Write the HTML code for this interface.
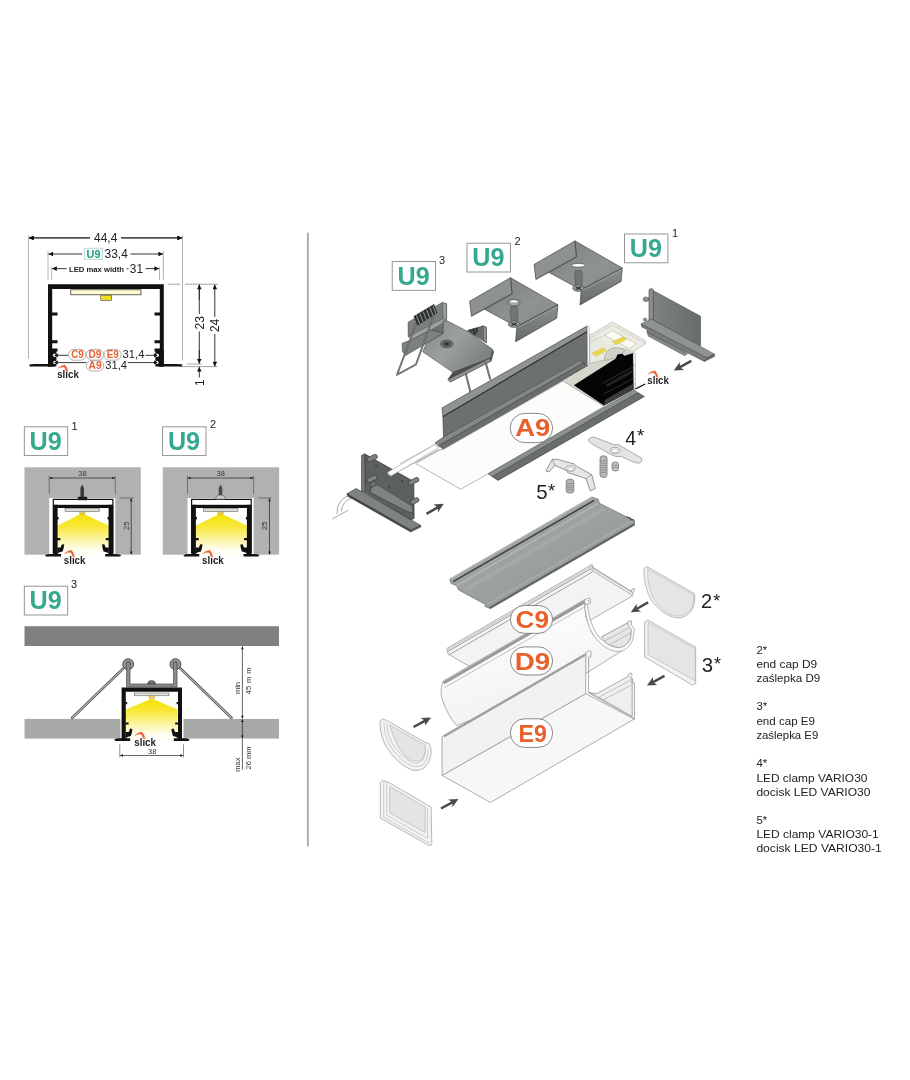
<!DOCTYPE html>
<html><head><meta charset="utf-8">
<style>
html,body{margin:0;padding:0;background:#fff;}
body{width:910px;height:1080px;overflow:hidden;font-family:"Liberation Sans",sans-serif;}
svg{display:block;will-change:transform;}
text{font-family:"Liberation Sans",sans-serif;}
.d{fill:#222;font-size:12px;}
.s{fill:#333;font-size:7.5px;}
.u9{fill:#35a88e;font-weight:bold;font-size:25px;}
.sup{fill:#222;font-size:11px;}
.or{fill:#e8602c;font-weight:bold;}
.leg{fill:#222;font-size:11.3px;}
.num{fill:#222;font-size:19px;}
.slk{fill:#1e1e1e;font-weight:bold;font-size:10.2px;}
</style></head><body>
<svg width="910" height="1080" viewBox="0 0 910 1080">
<defs>
<marker id="ab" viewBox="0 0 10 10" refX="10" refY="5" markerWidth="5.6" markerHeight="4.6" orient="auto-start-reverse" markerUnits="userSpaceOnUse"><path d="M0,0 L10,5 L0,10 Z" fill="#111"/></marker>
<marker id="as" viewBox="0 0 10 10" refX="10" refY="5" markerWidth="3.8" markerHeight="2.8" orient="auto-start-reverse" markerUnits="userSpaceOnUse"><path d="M0,0 L10,5 L0,10 Z" fill="#222"/></marker>
<linearGradient id="lg" x1="0" y1="0" x2="0" y2="1"><stop offset="0" stop-color="#f6e100"/><stop offset="0.3" stop-color="#f8e838"/><stop offset="0.6" stop-color="#fcf4a0"/><stop offset="0.85" stop-color="#fffdf0"/><stop offset="1" stop-color="#ffffff"/></linearGradient>
<g id="slick"><text class="slk" x="0.3" y="0.9" textLength="21.6" lengthAdjust="spacingAndGlyphs">slıck</text><path d="M0.9,-9.1 Q4.6,-12.4 7.9,-12.5 Q10.6,-10 11,-5.4 L9.1,-6.4 Q8.8,-8.8 7.1,-10.5 Q4.4,-10.7 0.9,-9.1 Z" fill="#e8602c" stroke="#e8602c" stroke-width="0.4" stroke-linejoin="round"/></g>
<g id="u9box"><rect x="0" y="0" width="43.4" height="28.8" fill="#fff" stroke="#8a8a8a" stroke-width="0.9"/><text class="u9" x="5.3" y="23" textLength="32.2" lengthAdjust="spacingAndGlyphs">U9</text></g>
<g id="arrow"><path d="M0,0 L-9.4,-4.5 L-7.6,-1.25 L-20,-1.25 L-20,1.25 L-7.6,1.25 L-9.4,4.5 Z" fill="#4a4a4a"/></g>
<!-- cross-section common part for U9 1/2 (coords of drawing 1) -->
<g id="sec">
<rect x="24.5" y="467.3" width="116.3" height="87.4" fill="#b1b1b1"/>
<rect x="49.2" y="498" width="66.1" height="58" fill="#fff"/>
<path d="M49.2,475.8V494M115.3,475.8V494" stroke="#444" stroke-width="0.6"/>
<path d="M49.6,478H114.9" stroke="#222" stroke-width="0.7" marker-start="url(#as)" marker-end="url(#as)"/>
<text class="s" x="82.4" y="476" text-anchor="middle">38</text>
<path d="M57.3,525.8 L82.2,513.2 L109,525.8 L109,556.5 L57.3,556.5 Z" fill="url(#lg)"/>
<path d="M53.3,553 V499.4 H112.9 V553" fill="none" stroke="#111" stroke-width="1.2"/>
<rect x="54.2" y="504.8" width="57.8" height="3.2" fill="#111"/>
<rect x="53" y="504.8" width="4.6" height="50.5" fill="#111"/>
<rect x="108.6" y="504.8" width="4.6" height="50.5" fill="#111"/>
<path d="M57,517h1.6v2.4h-1.6zM57,538h3.4v2.2h-3.4zM109.2,517h-1.6v2.4h1.6zM109.2,538h-3.4v2.2h3.4z" fill="#111"/>
<path d="M45,555.2 Q47,553.8 53,554 L61,554 L61,556.6 L46,556.6 Z" fill="#111"/>
<path d="M121.2,555.2 Q119,553.8 113,554 L105.2,554 L105.2,556.6 L120,556.6 Z" fill="#111"/>
<path d="M57.4,547.5 L60.5,547.5 L62,544.2 L64.2,544.6 L63.6,548.5 L62.6,551.6 L59,552.6 L57.4,554 Z" fill="#111"/>
<path d="M108.8,547.5 L105.7,547.5 L104.2,544.2 L102,544.6 L102.6,548.5 L103.6,551.6 L107.2,552.6 L108.8,554 Z" fill="#111"/>
<rect x="65" y="508.6" width="34.6" height="3" fill="#dcdcd6" stroke="#555" stroke-width="0.5"/>
<rect x="79.6" y="511.6" width="5.4" height="2.4" fill="#e9cf58" stroke="#777" stroke-width="0.3"/>
<path d="M119.6,498H133.6" stroke="#444" stroke-width="0.6"/>
<path d="M131.2,498.4V554.4" stroke="#222" stroke-width="0.7" marker-start="url(#as)" marker-end="url(#as)"/>
<text class="s" transform="translate(128.6,525.8) rotate(-90)" text-anchor="middle">25</text>
<use href="#slick" x="63.5" y="562.7"/>
</g>
</defs>
<rect width="910" height="1080" fill="#fff"/>
<!-- ===== top-left dimension drawing ===== -->
<g id="topleft">
<path d="M28.5,235V358.6M182.5,235V360.5M48,251V279.7M163.4,251V279.7M51.7,266.7V279.7M159.5,266.7V279.7" stroke="#a9a9a9" stroke-width="0.9" fill="none"/>
<path d="M168,284.2H180M185,284.2H218M180,366.6H217.5M187,364H201.6" stroke="#999" stroke-width="0.9" fill="none"/>
<path d="M29,237.9H92.5M119,237.9H182" stroke="#222" stroke-width="0.9" marker-start="url(#ab)" marker-end="url(#ab)" fill="none"/>
<path d="M29,237.9H92.5" stroke="#222" stroke-width="0.9" marker-start="url(#ab)" fill="none"/>
<path d="M119,237.9H182" stroke="#222" stroke-width="0.9" marker-end="url(#ab)" fill="none"/>
<rect x="90" y="232" width="31" height="11" fill="#fff"/>
<text class="d" x="94" y="242" textLength="23.3" lengthAdjust="spacingAndGlyphs">44,4</text>
<path d="M48.5,254H82.3" stroke="#222" stroke-width="0.9" marker-start="url(#ab)" fill="none"/>
<path d="M130.4,254H163" stroke="#222" stroke-width="0.9" marker-end="url(#ab)" fill="none"/>
<rect x="84.3" y="248.2" width="18.4" height="11.2" fill="#f3faf8" stroke="#a5cfc6" stroke-width="0.7"/>
<text x="86.6" y="257.9" font-size="11" font-weight="bold" fill="#2c9c84" textLength="13.8" lengthAdjust="spacingAndGlyphs">U9</text>
<text class="d" x="104.6" y="258.3" textLength="23.2" lengthAdjust="spacingAndGlyphs">33,4</text>
<path d="M52.2,268.6H66.5" stroke="#222" stroke-width="0.9" marker-start="url(#ab)" fill="none"/>
<path d="M145.6,268.6H159" stroke="#222" stroke-width="0.9" marker-end="url(#ab)" fill="none"/>
<text x="69" y="271.5" font-size="7.8" font-weight="bold" fill="#222" textLength="55" lengthAdjust="spacingAndGlyphs">LED max width</text>
<path d="M126.6,268.8H128.6" stroke="#222" stroke-width="0.9"/>
<text class="d" x="129.8" y="272.6" textLength="13.2" lengthAdjust="spacingAndGlyphs">31</text>
<!-- profile -->
<path d="M48,284.3H163.8V366.4H159.8V289H52.2V366.4H48Z" fill="#111"/>
<path d="M52,312.4h5.5v3h-5.5zM52,340.2h5.5v3h-5.5zM52,348.6h5.5v3h-5.5zM160,312.4h-5.5v3h5.5zM160,340.2h-5.5v3h5.5zM160,348.6h-5.5v3h5.5z" fill="#111"/>
<path d="M48,350H56.4V366.4H48ZM163.8,350H155.4V366.4H163.8Z" fill="#111"/>
<path d="M29,364.6 Q31,363.6 40,364 L54,364 V366.6 H30 Z" fill="#111"/>
<path d="M182.6,364.6 Q180,363.6 172,364 L158,364 V366.6 H181.5 Z" fill="#111"/>
<circle cx="54.6" cy="355.3" r="1.7" fill="#fff"/><circle cx="54.8" cy="362.4" r="1.6" fill="#fff"/>
<circle cx="157.2" cy="355.3" r="1.7" fill="#fff"/><circle cx="157" cy="362.4" r="1.6" fill="#fff"/>
<path d="M54,355.3 L57.8,353.3 V357.3Z M54,362.6 L57.8,360.6 V364.6Z M157.8,355.3 L154,353.3 V357.3Z M157.8,362.6 L154,360.6 V364.6Z" fill="#111"/>
<rect x="70.8" y="289.8" width="70.2" height="5" fill="#fffbd2" stroke="#222" stroke-width="0.7"/>
<rect x="100.8" y="295.2" width="10.8" height="5.2" fill="#f2de22" stroke="#444" stroke-width="0.6"/>
<!-- C9 D9 E9 row -->
<path d="M57,355.3H68.4M145.5,355.3H154.5M57,362.6H86.3M127.8,362.6H154.5" stroke="#222" stroke-width="0.9" fill="none"/>
<rect x="68.4" y="349.4" width="17.4" height="10.8" rx="5.4" fill="#fff" stroke="#a8a8a8" stroke-width="0.9"/>
<rect x="86.4" y="349.4" width="17.2" height="10.8" rx="5.4" fill="#fff" stroke="#a8a8a8" stroke-width="0.9"/>
<rect x="104" y="349.4" width="17.2" height="10.8" rx="5.4" fill="#fff" stroke="#a8a8a8" stroke-width="0.9"/>
<rect x="86.3" y="360.4" width="17.4" height="10.6" rx="5.3" fill="#fff" stroke="#a8a8a8" stroke-width="0.9"/>
<text class="or" font-size="11" x="71.2" y="358.4" textLength="12.4" lengthAdjust="spacingAndGlyphs">C9</text>
<text class="or" font-size="11" x="88.6" y="358.4" textLength="12.8" lengthAdjust="spacingAndGlyphs">D9</text>
<text class="or" font-size="11" x="106.8" y="358.4" textLength="12" lengthAdjust="spacingAndGlyphs">E9</text>
<text class="or" font-size="11" x="88.6" y="369.3" textLength="13" lengthAdjust="spacingAndGlyphs">A9</text>
<text class="d" x="122.6" y="358.4" style="font-size:10.8px" textLength="21.8" lengthAdjust="spacingAndGlyphs">31,4</text>
<text class="d" x="105.2" y="368.9" style="font-size:10.8px" textLength="21.8" lengthAdjust="spacingAndGlyphs">31,4</text>
<use href="#slick" x="56.9" y="377.4"/>
<!-- right dims -->
<path d="M199.3,284.8V314M199.3,331.5V363.4" stroke="#222" stroke-width="0.9" fill="none"/>
<path d="M199.3,300V284.6" stroke="#222" stroke-width="0.9" marker-end="url(#ab)" fill="none"/>
<path d="M199.3,350V363.6" stroke="#222" stroke-width="0.9" marker-end="url(#ab)" fill="none"/>
<path d="M214.8,300V284.6" stroke="#222" stroke-width="0.9" marker-end="url(#ab)" fill="none"/>
<path d="M214.8,300V317M214.8,334V350" stroke="#222" stroke-width="0.9" fill="none"/>
<path d="M214.8,350V366.4" stroke="#222" stroke-width="0.9" marker-end="url(#ab)" fill="none"/>
<path d="M199.3,377.4V367" stroke="#222" stroke-width="0.9" marker-end="url(#ab)" fill="none"/>
<text class="d" transform="translate(203.6,322.8) rotate(-90)" text-anchor="middle">23</text>
<text class="d" transform="translate(219,325.4) rotate(-90)" text-anchor="middle">24</text>
<text class="d" transform="translate(203.6,382.6) rotate(-90)" text-anchor="middle">1</text>
</g>
<!-- ===== U9 labels left ===== -->
<use href="#u9box" x="24.3" y="426.8"/><text class="sup" x="71.6" y="429.7">1</text>
<use href="#u9box" x="162.6" y="426.8"/><text class="sup" x="210" y="428">2</text>
<use href="#u9box" x="24.3" y="586.2"/><text class="sup" x="71" y="588.2">3</text>
<!-- ===== sections 1 & 2 ===== -->
<use href="#sec"/>
<g><path d="M82.2,484.6 L84,488 V497.4 H80.4 V488 Z" fill="#3c3c3c"/><rect x="77.8" y="496.8" width="9.4" height="3.4" rx="0.8" fill="#1a1a1a"/></g>
<use href="#sec" x="138.3"/>
<g transform="translate(138.3,0)"><path d="M82.2,484.6 L84,488 V496 H80.4 V488 Z" fill="#4a4a4a"/><path d="M77.2,499.2 Q77.4,495.2 82.2,495 Q87,495.2 87.2,499.2 Z" fill="#c9c9c9" stroke="#444" stroke-width="0.5"/></g>
<!-- ===== section 3 ===== -->
<g id="sec3">
<rect x="24.5" y="626.2" width="254.5" height="19.8" fill="#808080"/>
<rect x="24.5" y="718.9" width="95.9" height="19.7" fill="#a9a9a9"/>
<rect x="183.5" y="718.9" width="95.5" height="19.7" fill="#a9a9a9"/>
<!-- springs -->
<path d="M124.2,667.6 L72.2,717.8" stroke="#444" stroke-width="2.6" stroke-linecap="round"/><path d="M124.2,667.6 L72.2,717.8" stroke="#b5b5b5" stroke-width="1.3" stroke-linecap="round"/>
<path d="M179.6,667.6 L231.4,717.8" stroke="#444" stroke-width="2.6" stroke-linecap="round"/><path d="M179.6,667.6 L231.4,717.8" stroke="#b5b5b5" stroke-width="1.3" stroke-linecap="round"/>
<circle cx="128.2" cy="664.2" r="5.4" fill="#9a9a9a" stroke="#444" stroke-width="1"/><circle cx="128.2" cy="664.2" r="2.6" fill="#b8b8b8" stroke="#555" stroke-width="0.6"/>
<circle cx="175.4" cy="664.2" r="5.4" fill="#9a9a9a" stroke="#444" stroke-width="1"/><circle cx="175.4" cy="664.2" r="2.6" fill="#b8b8b8" stroke="#555" stroke-width="0.6"/>
<path d="M126.6,662 H130 V684 H173.6 V662 H177 V687 H126.6 Z" fill="#8e8e8e" stroke="#444" stroke-width="0.7"/>
<path d="M147.6,684 Q147.8,680.6 151.6,680.6 Q155.4,680.6 155.6,684 Z" fill="#777" stroke="#333" stroke-width="0.6"/>
<!-- light -->
<path d="M126,709.4 L151.8,698.4 L177.6,709.4 L177.6,741 L126,741 Z" fill="url(#lg)"/>
<!-- profile -->
<path d="M121.6,687.6H182V739H178V691.8H125.8V739H121.6Z" fill="#111"/>
<path d="M125.6,702h1.6v2.2h-1.6zM125.6,722.6h3v2h-3zM178.2,702h-1.6v2.2h1.6zM178.2,722.6h-3v2h3z" fill="#111"/>
<path d="M114.2,739.4 Q116,738 121,738.2 L130.2,738.2 V741 H115.4 Z" fill="#111"/>
<path d="M189.6,739.4 Q187.8,738 182.8,738.2 L173.8,738.2 V741 H188.4 Z" fill="#111"/>
<path d="M125.8,732 L128.8,732 L130.2,728.6 L132.4,729 L131.8,733 L130.8,736 L127.4,737 L125.8,738.4 Z" fill="#111"/>
<path d="M178,732 L175,732 L173.6,728.6 L171.4,729 L172,733 L173,736 L176.4,737 L178,738.4 Z" fill="#111"/>
<rect x="134.5" y="693" width="34.5" height="2.8" fill="#e4e4dc" stroke="#555" stroke-width="0.5"/>
<rect x="149" y="695.8" width="5.6" height="2.5" fill="#e9cf58" stroke="#777" stroke-width="0.3"/>
<use href="#slick" x="134" y="744.6"/>
<path d="M119.8,744.4V757.4M183.5,744.4V757.4" stroke="#444" stroke-width="0.6"/>
<path d="M120.2,755.5H183.1" stroke="#222" stroke-width="0.7" marker-start="url(#as)" marker-end="url(#as)"/>
<text class="s" x="152.2" y="753.6" text-anchor="middle">38</text>
<!-- vertical dims -->
<path d="M242.4,646.4V718.5" stroke="#222" stroke-width="0.7" marker-start="url(#as)" marker-end="url(#as)"/>
<path d="M242.4,719.3V738.2" stroke="#222" stroke-width="0.7" marker-start="url(#as)" marker-end="url(#as)"/>
<path d="M242.4,738.6V769.6" stroke="#222" stroke-width="0.7"/>
<text class="s" transform="translate(240.2,688) rotate(-90)" text-anchor="middle">min</text>
<text class="s" transform="translate(251.4,681) rotate(-90)" text-anchor="middle" textLength="27" lengthAdjust="spacing">45 m m</text>
<text class="s" transform="translate(240.2,764.6) rotate(-90)" text-anchor="middle">max</text>
<text class="s" transform="translate(251.4,758) rotate(-90)" text-anchor="middle">26 mm</text>
</g>
<!-- separator -->
<path d="M307.9,232.8V846.5" stroke="#9c9c9c" stroke-width="1.6"/>
<!-- legend -->
<g class="leg">
<text x="756.4" y="653.5">2*</text><text x="756.4" y="668" textLength="60.7" lengthAdjust="spacingAndGlyphs">end cap D9</text><text x="756.4" y="682.1" textLength="63.9" lengthAdjust="spacingAndGlyphs">zaślepka D9</text>
<text x="756.4" y="710.3">3*</text><text x="756.4" y="724.7" textLength="58.6" lengthAdjust="spacingAndGlyphs">end cap E9</text><text x="756.4" y="738.7" textLength="61.8" lengthAdjust="spacingAndGlyphs">zaślepka E9</text>
<text x="756.4" y="767.1">4*</text><text x="756.4" y="781.5" textLength="111" lengthAdjust="spacingAndGlyphs">LED clamp VARIO30</text><text x="756.4" y="795.6" textLength="114" lengthAdjust="spacingAndGlyphs">docisk LED VARIO30</text>
<text x="756.4" y="823.9">5*</text><text x="756.4" y="838.3" textLength="122.4" lengthAdjust="spacingAndGlyphs">LED clamp VARIO30-1</text><text x="756.4" y="852.4" textLength="125.4" lengthAdjust="spacingAndGlyphs">docisk LED VARIO30-1</text>
</g>
<!-- ===== exploded view : defs-like groups ===== -->
<defs>
<linearGradient id="gpl" x1="0" y1="0" x2="1" y2="1"><stop offset="0" stop-color="#7a7e7c"/><stop offset="0.6" stop-color="#8f9391"/><stop offset="1" stop-color="#838785"/></linearGradient>
<linearGradient id="gfl" x1="0" y1="0" x2="0" y2="1"><stop offset="0" stop-color="#8b8f8d"/><stop offset="1" stop-color="#676b69"/></linearGradient>
<g id="brk" stroke="#2f3231" stroke-width="5" stroke-linejoin="round">
<polygon points="418,105 810,330 470,510 200,365 430,238" fill="url(#gpl)"/>
<polygon points="80,300 418,105 430,238 95,425" fill="#8d918f"/>
<polygon points="470,510 810,330 800,440 460,635" fill="url(#gfl)"/>
<path d="M474,520 L806,342" stroke="#a3a7a5" stroke-width="7" fill="none"/>
<path d="M100,418 L428,236" stroke="#5d6160" stroke-width="7" fill="none"/>
</g>
<g id="scr" stroke="#444" stroke-width="4">
<path d="M422,345 L470,345 L480,385 L474,470 L424,470 L416,385 Z" fill="#727674"/>
<ellipse cx="447" cy="490" rx="48" ry="28" fill="#8d918f"/>
<path d="M425,478 L470,503 M470,478 L425,503" stroke="#1c1c1c" stroke-width="8" fill="none"/>
</g>
</defs>
<!-- bracket 2 -->
<g transform="translate(460,265) scale(0.120879)">
<use href="#brk"/>
<ellipse cx="447" cy="312" rx="50" ry="27" fill="#a2a6a4" stroke="#444" stroke-width="5"/><ellipse cx="445" cy="301" rx="28" ry="10" fill="#fff"/>
<use href="#scr"/>
</g>
<!-- bracket 1 -->
<g transform="translate(524.4,228.2) scale(0.120879)">
<use href="#brk"/>
<ellipse cx="447" cy="307" rx="58" ry="15" fill="#fff" stroke="#444" stroke-width="5"/>
<use href="#scr" y="6"/>
</g>
<use href="#u9box" x="467" y="243.2"/><text class="sup" x="514.4" y="245.2">2</text>
<use href="#u9box" x="392.2" y="261.5"/><text class="sup" x="439" y="263.6">3</text>
<use href="#u9box" x="624.5" y="234"/><text class="sup" x="672" y="237">1</text>
<!-- bracket 3 (spring clip) -->
<g transform="translate(390,295) scale(0.120879)" stroke-linejoin="round">
<polygon points="150,225 432,62 468,72 468,200 200,345 150,345" fill="#7b7f7d" stroke="#333" stroke-width="4"/>
<polygon points="432,62 468,72 468,205 440,218" fill="#9a9e9c" stroke="#333" stroke-width="3"/>
<polygon points="195,175 365,75 392,150 228,252" fill="#2c2f2e"/>
<path d="M218,168 L246,238 M246,152 L274,222 M274,136 L302,206 M302,120 L330,190 M330,104 L358,174 M355,90 L383,160" stroke="#8c908e" stroke-width="9" fill="none"/>
<polygon points="150,345 440,195 472,215 195,368" fill="#9ea2a0" stroke="#333" stroke-width="3"/>
<polygon points="330,292 442,228 446,320" fill="#6d716f"/>
<polygon points="100,400 190,365 335,288 445,318 300,400 130,500 104,470" fill="#7d817f" stroke="#333" stroke-width="4"/>
<polygon points="640,295 662,288 770,255 798,268 798,395 700,338" fill="#686c6a" stroke="#333" stroke-width="4"/>
<polygon points="770,255 798,268 798,395 776,382" fill="#8f9391" stroke="#333" stroke-width="3"/>
<polygon points="648,288 722,268 728,300 702,336" fill="#2c2f2e"/>
<path d="M672,282 L690,318 M696,275 L714,310" stroke="#777b79" stroke-width="7"/>
<linearGradient id="gb3" x1="0" y1="0" x2="1" y2="0.6"><stop offset="0" stop-color="#838785"/><stop offset="0.5" stop-color="#9b9f9d"/><stop offset="1" stop-color="#7c807e"/></linearGradient>
<polygon points="440,215 476,215 640,300 850,450 835,520 520,640 270,470 300,400 440,320" fill="url(#gb3)" stroke="#333" stroke-width="4"/>
<polygon points="520,640 835,520 850,455 858,470 838,545 500,720 478,700" fill="#4c4f4e" stroke="#333" stroke-width="3"/>
<polygon points="478,700 500,690 818,527 838,545 500,720" fill="#8f9391" stroke="#333" stroke-width="3"/>
<path d="M362,165 L215,575 L58,660 L135,455 L215,240" stroke="#4a4d4c" stroke-width="15" fill="none" stroke-linecap="round"/>
<path d="M362,165 L215,575 L58,660 L135,455 L215,240" stroke="#a9adab" stroke-width="5" fill="none" stroke-linecap="round"/>
<path d="M625,645 L665,800 M790,555 L830,700" stroke="#4f5251" stroke-width="16" fill="none"/>
<path d="M625,645 L665,800 M790,555 L830,700" stroke="#9b9f9d" stroke-width="6" fill="none"/>
<ellipse cx="470" cy="405" rx="52" ry="32" fill="#6a6e6c" stroke="#333" stroke-width="4"/>
<ellipse cx="470" cy="405" rx="30" ry="18" fill="#474a49"/><ellipse cx="470" cy="405" rx="12" ry="7" fill="#2a2a2a"/>
</g>
<!-- right end cap -->
<g transform="translate(620,270) scale(0.131868)" stroke-linejoin="round">
<linearGradient id="gec" x1="0" y1="0" x2="1" y2="0"><stop offset="0" stop-color="#7e8280"/><stop offset="1" stop-color="#686c6a"/></linearGradient>
<ellipse cx="196" cy="222" rx="20" ry="18" fill="#8a8e8c" stroke="#555" stroke-width="4"/>
<rect x="196" y="206" width="34" height="30" fill="#8a8e8c"/>
<ellipse cx="190" cy="376" rx="14" ry="12" fill="#8a8e8c" stroke="#555" stroke-width="3"/>
<polygon points="240,150 610,350 610,575 240,375" fill="url(#gec)" stroke="#333" stroke-width="4"/>
<polygon points="220,150 240,138 252,150 252,378 220,388" fill="#8c908e" stroke="#333" stroke-width="4"/>
<polygon points="205,470 480,615 512,636 490,650 215,502" fill="#868a88" stroke="#444" stroke-width="3"/>
<polygon points="160,408 660,665 640,694 205,472 205,452 165,432" fill="#777b79" stroke="#333" stroke-width="3"/>
<polygon points="160,408 238,372 718,638 660,665" fill="#8f9391" stroke="#333" stroke-width="3"/>
<polygon points="660,665 718,638 716,656 640,694" fill="#666a68" stroke="#333" stroke-width="3"/>
</g>
<use href="#arrow" transform="translate(673.8,370.5) rotate(151)"/>
<!-- ===== main profile ===== -->
<g id="mainprof" stroke-linejoin="round">
<!-- cream interior -->
<polygon points="589.5,335 634,353 634,390.5 604,406.4 563,383.2 443.6,449.3 587.9,365.4" fill="#d6d6cc"/>
<!-- left wall faces -->
<polygon points="442.9,416.4 587.1,331.4 587.4,363 443.6,441" fill="#6c706e" stroke="#333" stroke-width="0.6"/>
<polygon points="442,407.9 587.1,326 587.1,331.6 442.9,416.6" fill="#8f9391" stroke="#333" stroke-width="0.6"/>
<path d="M442.9,416.6 L587.1,331.6" stroke="#2d302f" stroke-width="1.1"/>
<!-- left flange -->
<polygon points="435,442.9 442.9,437.4 579.3,361.1 587.9,365.4 443.6,449.3" fill="#6a6e6c" stroke="#333" stroke-width="0.6"/>
<polygon points="435,442.9 442.9,437.4 579.3,361.1 583,363 438.6,445.8" fill="#838785"/>
<path d="M438.6,445.8 L583.2,363" stroke="#3a3d3c" stroke-width="0.6"/>
<!-- cover A9 -->
<polygon points="443.6,449.3 563,381 604,406.4 488.1,473.8 460.7,489.2 415.6,463.5 439.6,449.9" fill="#fcfcfb" stroke="#9a9a9a" stroke-width="0.7" stroke-linejoin="miter"/>
<path d="M400,463.6 L435,444.4 M400,470.8 L439.6,449.7 M417.5,461.2 L438.6,449.6" stroke="#9d9d9d" stroke-width="0.6" fill="none"/>
<!-- right flange -->
<polygon points="488.1,473.8 634,390.2 644.3,396.6 498,480.4" fill="#6a6e6c" stroke="#333" stroke-width="0.6"/>
<polygon points="488.1,473.8 634,390.2 638,392.6 492,476.6" fill="#8b8f8d"/>
<path d="M492,476.6 L638,392.6" stroke="#3a3d3c" stroke-width="0.5"/>
<!-- right end details in zoom coords -->
<g transform="translate(560,315) scale(0.0989011)">
<polygon points="140,710 565,440 580,400 628,393 652,415 740,385 746,750 445,916" fill="#050505"/>
<polygon points="746,690 746,750 445,916 452,860" fill="#3a3d3c"/>
<path d="M746,520 L430,690 M746,640 L440,800" stroke="#383b3a" stroke-width="8" fill="none"/>
<path d="M746,560 L470,715" stroke="#222" stroke-width="30" fill="none"/>
<!-- strip translucent -->
<polygon points="300,205 530,70 865,262 865,290 745,370 640,340 560,345 470,390 450,455 300,490" fill="#ebebe1" fill-opacity="0.93" stroke="#9a9a92" stroke-width="5"/>
<path d="M300,235 L530,100 L865,290" stroke="#aaa" stroke-width="4" fill="none"/>
<polygon points="455,205 530,158 775,292 700,340" fill="#fbfbf3" stroke="#9a9a92" stroke-width="4"/>
<path d="M310,270 L455,205" stroke="#9a9a92" stroke-width="4"/>
<polygon points="530,270 640,220 672,246 566,300" fill="#e7da45" stroke="#b5a92a" stroke-width="3"/>
<polygon points="325,385 435,330 470,360 360,420" fill="#e7da45" stroke="#b5a92a" stroke-width="3"/>
<path d="M454,462 C438,392 498,326 572,330 C612,332 640,345 656,362 L600,420 Z" stroke="#8a8a84" stroke-width="5" fill="#d2d2c8"/>
<polygon points="565,440 580,400 628,393 652,415 700,400 700,470" fill="#050505"/>
<!-- wall ends -->
<polygon points="275,110 295,120 300,480 280,500" fill="#fff" stroke="#8a8a8a" stroke-width="5"/>
<polygon points="740,380 760,385 765,745 748,755" fill="#fff" stroke="#8a8a8a" stroke-width="5"/>
<path d="M745,510 h14 M745,650 h14 M745,695 h14" stroke="#8a8a8a" stroke-width="5"/>
<path d="M762,748 L862,698" stroke="#0a0a0a" stroke-width="13"/>
</g>
</g>
<use href="#slick" x="647" y="383.2"/>
<!-- A9 label -->
<rect x="510.2" y="413.4" width="42.4" height="29.2" rx="14.6" fill="#fff" stroke="#7c7c7c" stroke-width="0.9"/>
<text class="or" font-size="24.5" x="515.2" y="435.8" textLength="35" lengthAdjust="spacingAndGlyphs">A9</text>
<!-- ===== left end cap ===== -->
<g transform="translate(320,420) scale(0.153846)" stroke-linejoin="round">
<path d="M110,612 Q108,520 188,490 M140,592 Q142,530 205,508 M80,642 L185,586" stroke="#8c8c8c" stroke-width="5" fill="none"/>
<polygon points="290,220 610,400 612,640 590,650 290,470" fill="#5c605e" stroke="#333" stroke-width="4"/>
<polygon points="270,230 290,220 295,466 270,472" fill="#747876" stroke="#333" stroke-width="4"/>
<path d="M322,256 L358,238 M322,390 L356,374 M590,408 L628,388 M604,532 L628,520" stroke="#3a3d3c" stroke-width="34" stroke-linecap="round"/>
<path d="M322,256 L358,238 M322,390 L356,374 M590,408 L628,388 M604,532 L628,520" stroke="#7e8280" stroke-width="26" stroke-linecap="round"/>
<circle cx="365" cy="300" r="7" fill="#3f4241"/><circle cx="533" cy="396" r="7" fill="#3f4241"/><circle cx="450" cy="440" r="7" fill="#3f4241"/>
<polygon points="330,442 372,420 600,560 602,604 560,592 330,472" fill="#7f8381" stroke="#333" stroke-width="3"/>
<polygon points="330,405 350,395 372,420 330,442" fill="#6c706e" stroke="#333" stroke-width="3"/>
<polygon points="175,480 235,445 655,685 590,716" fill="#7e8280" stroke="#333" stroke-width="4"/>
<polygon points="175,480 590,716 590,728 180,496" fill="#444746" stroke="#333" stroke-width="3"/>
<polygon points="590,716 655,685 655,696 590,728" fill="#5a5e5c" stroke="#333" stroke-width="3"/>
<polygon points="440,340 745,160 775,178 462,364" fill="#fdfdfd" stroke="#9a9a9a" stroke-width="4"/>
<path d="M440,340 Q436,356 462,364" fill="#fff" stroke="#9a9a9a" stroke-width="4"/>
</g>
<use href="#arrow" transform="translate(443.8,503.8) rotate(-30)"/>
<!-- ===== clamps 4 / 5 ===== -->
<g transform="translate(520,410) scale(0.153846)" stroke-linejoin="round">
<path d="M445,197 Q450,175 482,176 L612,226 Q642,214 664,240 L790,312 Q802,330 776,346 Q742,346 660,302 Q620,312 585,286 L460,216 Z" fill="#e3e3e3" stroke="#808080" stroke-width="4"/>
<ellipse cx="618" cy="262" rx="31" ry="19" fill="#f6f6f6" stroke="#808080" stroke-width="4"/>
<ellipse cx="618" cy="266" rx="22" ry="12" fill="#fff" stroke="#909090" stroke-width="3"/>
<rect x="520" y="298" width="46" height="140" rx="18" fill="#b8b8b8" stroke="#5a5a5a" stroke-width="4"/>
<path d="M524,330h38M524,345h38M524,360h38M524,375h38M524,390h38M524,405h38" stroke="#777" stroke-width="4"/>
<rect x="598" y="338" width="42" height="58" rx="16" fill="#c4c4c4" stroke="#5a5a5a" stroke-width="4"/>
<path d="M602,360h34M602,374h34" stroke="#777" stroke-width="4"/>
<path d="M168,398 L210,320 L240,320 L332,345 Q356,345 366,365 L466,420 L490,510 L456,526 L430,446 L340,416 Q310,416 296,390 L226,360 L190,402 Z" fill="#e6e6e6" stroke="#5a5a5a" stroke-width="4"/>
<path d="M210,320 L226,360 M466,420 L430,446" stroke="#5a5a5a" stroke-width="3"/>
<ellipse cx="328" cy="380" rx="30" ry="18" fill="#f6f6f6" stroke="#707070" stroke-width="4"/>
<ellipse cx="328" cy="384" rx="18" ry="10" fill="#fff" stroke="#909090" stroke-width="3"/>
<rect x="300" y="450" width="50" height="90" rx="18" fill="#b8b8b8" stroke="#5a5a5a" stroke-width="4"/>
<path d="M304,478h42M304,492h42M304,506h42M304,520h42" stroke="#777" stroke-width="4"/>
</g>
<text class="num" x="625.2" y="444.8" style="font-size:19.6px">4</text><text x="637" y="442" font-size="18.5" fill="#222">*</text>
<text class="num" x="536.2" y="499.2" style="font-size:20.4px">5</text><text x="548" y="496.6" font-size="18.5" fill="#222">*</text>
<!-- ===== gray channel ===== -->
<g transform="translate(440,490) scale(0.21978)" stroke-linejoin="round">
<linearGradient id="gch" x1="0" y1="0" x2="1" y2="1"><stop offset="0" stop-color="#a8aca9"/><stop offset="0.35" stop-color="#a2a6a3"/><stop offset="0.6" stop-color="#9a9e9b"/><stop offset="1" stop-color="#949895"/></linearGradient>
<polygon points="45,405 690,32 720,42 725,60 885,140 885,160 230,540 205,530 205,520 85,455 75,435 50,425" fill="url(#gch)" stroke="#6a6e6b" stroke-width="3"/>
<path d="M60,417 L702,47" stroke="#3e4140" stroke-width="7" fill="none"/>
<path d="M48,404 L692,33" stroke="#b8bcb9" stroke-width="5" fill="none"/>
<path d="M78,434 L718,62" stroke="#b4b8b5" stroke-width="6" fill="none"/>
<path d="M120,452 L745,88" stroke="#adb1ae" stroke-width="18" fill="none" opacity="0.5"/>
<path d="M215,520 L872,140" stroke="#a6aaa7" stroke-width="9" fill="none"/>
<path d="M226,536 L884,156" stroke="#5a5e5b" stroke-width="7" fill="none"/>
<path d="M848,122 L866,128 L868,140 M868,132 L884,138" stroke="#4a4d4b" stroke-width="5" fill="none"/>
</g>
<!-- ===== C9 ===== -->
<g stroke-linejoin="round">
<polygon points="446.9,648.4 590.2,565.5 633.1,592.5 633.1,595.5 490,678 448,654" fill="#f3f3f2" stroke="#8f8f8f" stroke-width="0.7"/>
<path d="M447.6,651.6 L591.6,568.4 M449.5,654.6 L592.6,571.8" stroke="#7e7e7e" stroke-width="0.7" fill="none"/>
<path d="M447.2,650 L591,567" stroke="#d2d2d2" stroke-width="1.6" fill="none"/>
<g transform="translate(560,560) scale(0.10989)">
<path d="M270,48 L293,40 L300,75 L283,95 M295,75 L665,300 M290,95 L655,318" stroke="#8f8f8f" stroke-width="6" fill="none"/>
<path d="M650,282 L655,262 L678,262 L680,275 L662,290" stroke="#8f8f8f" stroke-width="6" fill="#f3f3f2"/>
</g>
</g>
<!-- ===== D9 ===== -->
<g stroke-linejoin="round">
<linearGradient id="gd9" x1="0" y1="0" x2="0.4" y2="1"><stop offset="0" stop-color="#f0f0f0"/><stop offset="0.4" stop-color="#fbfbfb"/><stop offset="1" stop-color="#f1f1f1"/></linearGradient>
<g transform="translate(560,560) scale(0.10989)">
<polygon points="375,700 620,568 646,550 650,630 645,700 610,770 540,800 430,765" fill="#e6e6e6" stroke="#8f8f8f" stroke-width="5"/>
<path d="M375,700 L620,570 M400,740 L640,612 M440,776 L646,664" stroke="#9a9a9a" stroke-width="5" fill="none"/>
</g>
<path d="M443.3,681 L584.7,599.6 L584.7,604 L585.8,617.1 L593,634.7 L607.3,646.8 L621.5,651 L588,672.2 L456.6,725.7 Q446,713 441.2,696 Q440.6,686 443.3,681 Z" fill="url(#gd9)" stroke="#8f8f8f" stroke-width="0.7"/>
<path d="M443.6,683 L584.8,601.6" stroke="#9a9a9a" stroke-width="3" fill="none"/>
<path d="M444.6,687.6 L585.2,606.6" stroke="#9a9a9a" stroke-width="0.6" fill="none"/>
<g transform="translate(560,560) scale(0.10989)">
<path d="M225,400 C230,520 262,640 335,725 C400,800 480,838 545,832 C605,822 655,770 668,700 L676,640 L670,618 L648,590 L646,550 L618,560 L622,600 L650,632 L644,700 C632,752 592,790 540,797 C485,800 420,768 365,710 C300,640 258,520 250,400 Z" fill="#fafafa" stroke="#8f8f8f" stroke-width="6"/>
<path d="M225,362 L265,345 L276,350 L276,396 L250,402 L225,400 Z" fill="#fafafa" stroke="#8f8f8f" stroke-width="6"/>
<path d="M248,372 L262,366 L262,388" stroke="#8f8f8f" stroke-width="5" fill="none"/>
</g>
</g>
<!-- ===== E9 ===== -->
<g transform="translate(430,640) scale(0.241758)" stroke-linejoin="round">
<polygon points="690,222 820,150 838,160 838,322 655,218" fill="#efefef" stroke="#8f8f8f" stroke-width="3"/>
<path d="M700,236 L826,168 M716,248 L830,188" stroke="#a2a2a2" stroke-width="2.5" fill="none"/>
<polygon points="50,560 644,222 845,327 250,672" fill="#f7f7f7" stroke="#8f8f8f" stroke-width="3"/>
<polygon points="50,400 644,57 644,222 50,560" fill="#f2f2f2" stroke="#8f8f8f" stroke-width="3"/>
<path d="M58,398 L640,62" stroke="#a0a0a0" stroke-width="10" fill="none"/>
<path d="M644,60 L644,52 L660,44 L666,48 L666,70 L656,74 L656,214 L836,316" stroke="#8f8f8f" stroke-width="3" fill="none"/>
<path d="M644,57 L656,74" stroke="#8f8f8f" stroke-width="2" fill="none"/>
<path d="M820,150 L822,140 L832,136 L836,146 L830,152 L832,174 L846,178 L846,327 L836,322 L836,176" fill="#f5f5f5" stroke="#8f8f8f" stroke-width="3"/>
</g>
<!-- labels C9 D9 E9 -->
<g>
<rect x="510.4" y="605.5" width="42.2" height="27.8" rx="13.9" fill="#fff" stroke="#7c7c7c" stroke-width="0.9"/>
<text class="or" font-size="24.5" x="515.6" y="628.3" textLength="33.4" lengthAdjust="spacingAndGlyphs">C9</text>
<rect x="510.4" y="646.9" width="42.2" height="28.1" rx="14" fill="#fff" stroke="#7c7c7c" stroke-width="0.9"/>
<text class="or" font-size="24.5" x="514.8" y="669.8" textLength="35.4" lengthAdjust="spacingAndGlyphs">D9</text>
<rect x="510.4" y="718.8" width="42.2" height="28.6" rx="14.2" fill="#fff" stroke="#7c7c7c" stroke-width="0.9"/>
<text class="or" font-size="24.5" x="518.4" y="742.3" textLength="28.4" lengthAdjust="spacingAndGlyphs">E9</text>
</g>
<!-- ===== right end caps 2* 3* ===== -->
<g transform="translate(600,550) scale(0.153846)" stroke-linejoin="round">
<path d="M285,120 L305,108 L612,282 Q626,340 592,400 Q552,446 490,441 Q400,420 330,320 Q283,230 285,120 Z" fill="#f2f2f2" stroke="#8f8f8f" stroke-width="4"/>
<path d="M310,124 L610,292 Q616,350 582,396 Q542,433 490,429 Q410,410 347,315 Q305,230 310,124 Z" fill="#e5e5e5" stroke="#a0a0a0" stroke-width="3"/>
<polygon points="290,470 310,455 622,632 622,868 600,878 290,695" fill="#f2f2f2" stroke="#8f8f8f" stroke-width="4"/>
<polygon points="312,470 620,642 620,850 312,680" fill="#e5e5e5" stroke="#a0a0a0" stroke-width="3"/>
</g>
<use href="#arrow" transform="translate(630.8,612.3) rotate(150)"/>
<use href="#arrow" transform="translate(646.9,685.4) rotate(151.6)"/>
<text class="num" x="701" y="608.2" style="font-size:20px">2</text><text x="713.2" y="606.6" font-size="18" fill="#222">*</text>
<text class="num" x="701.8" y="672.4" style="font-size:20.4px">3</text><text x="714" y="670.4" font-size="18" fill="#222">*</text>
<!-- ===== left end caps ===== -->
<g transform="translate(360,690) scale(0.148148)" stroke-linejoin="round">
<path d="M135,210 L155,195 L200,215 L440,355 L465,360 L480,400 Q485,470 440,520 Q400,552 350,540 Q250,500 175,380 Q130,290 135,210 Z" fill="#f3f3f3" stroke="#8a8a8a" stroke-width="4"/>
<path d="M160,215 Q160,300 200,372 Q270,480 355,515 Q400,522 430,500 Q462,460 458,400" stroke="#999" stroke-width="3" fill="none"/>
<path d="M180,225 Q185,300 218,362 Q280,455 358,492 Q398,498 420,478 Q445,440 440,395" stroke="#999" stroke-width="3" fill="none"/>
<path d="M200,235 L440,372 Q450,420 420,468 Q392,488 345,474 Q255,430 200,235 Z" fill="#e4e4e4" stroke="#999" stroke-width="3"/>
<polygon points="137,625 155,610 205,630 445,770 480,790 485,1045 465,1050 137,865" fill="#f3f3f3" stroke="#8a8a8a" stroke-width="4"/>
<path d="M160,622 L160,860 L470,1035 M180,632 L180,845 L455,1000 L455,800" stroke="#999" stroke-width="3" fill="none"/>
<polygon points="200,650 440,790 440,962 200,830" fill="#e4e4e4" stroke="#999" stroke-width="3"/>
</g>
<use href="#arrow" transform="translate(431.1,717.4) rotate(-28.6)"/>
<use href="#arrow" transform="translate(458.5,798.9) rotate(-28.6)"/>
</svg>
</body></html>
